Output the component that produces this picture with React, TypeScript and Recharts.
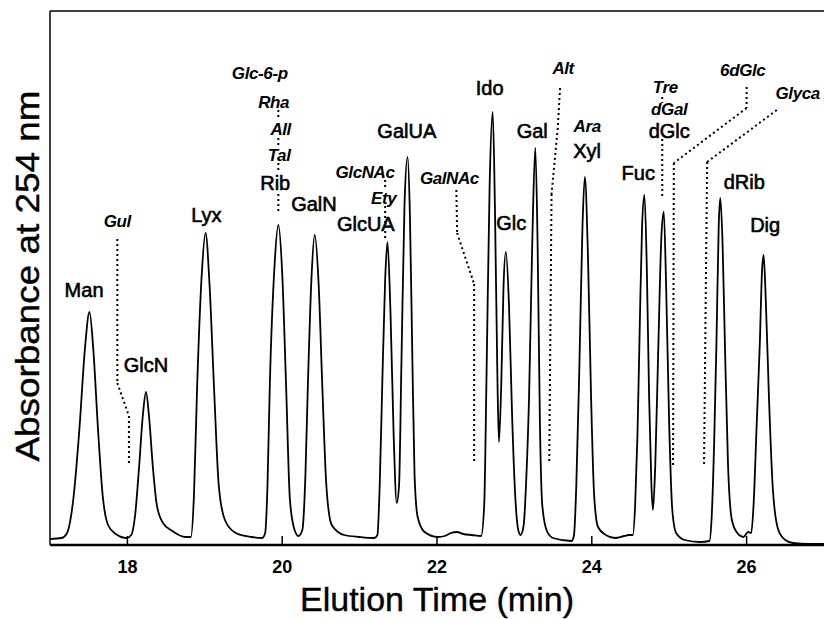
import { ComposedChart, Line, Scatter, XAxis, YAxis, ReferenceLine } from 'recharts'

// elution trace: time (min) / absorbance (arbitrary units)
const time = [
  17.0, 17.15, 17.22, 17.3, 17.38, 17.45, 17.51, 17.56, 17.62, 17.68, 17.75, 17.85, 17.99,
  18.05, 18.1, 18.15, 18.2, 18.24, 18.28, 18.33, 18.38, 18.46, 18.58, 18.75,
  18.82, 18.86, 18.9, 18.96, 19.01, 19.06, 19.12, 19.18, 19.26, 19.4, 19.6, 19.74,
  19.78, 19.81, 19.84, 19.9, 19.95, 20.0, 20.05, 20.1, 20.16, 20.21,
  20.26, 20.3, 20.33, 20.38, 20.42, 20.47, 20.52, 20.57, 20.64, 20.8, 21.0, 21.19,
  21.23, 21.26, 21.29, 21.33, 21.36, 21.4, 21.44, 21.48,
  21.51, 21.54, 21.58, 21.62, 21.65, 21.68, 21.71, 21.75, 21.84, 22.01,
  22.1, 22.18, 22.26, 22.34, 22.45, 22.57,
  22.61, 22.64, 22.68, 22.72, 22.75, 22.78, 22.8,
  22.83, 22.86, 22.89, 22.93, 22.97, 23.01, 23.05, 23.08,
  23.12, 23.15, 23.19, 23.23, 23.27, 23.3, 23.33, 23.36, 23.42, 23.5, 23.74,
  23.77, 23.8, 23.84, 23.88, 23.91, 23.95, 23.99, 24.03, 24.08, 24.18, 24.3, 24.42, 24.48, 24.53,
  24.56, 24.59, 24.62, 24.65, 24.68, 24.71, 24.74, 24.77, 24.79,
  24.82, 24.86, 24.9, 24.93, 24.96, 25.0, 25.04, 25.09, 25.2, 25.4, 25.52,
  25.55, 25.58, 25.61, 25.64, 25.66, 25.69, 25.72, 25.76, 25.81, 25.88, 25.96, 26.02, 26.06,
  26.09, 26.13, 26.17, 26.2, 26.22, 26.25, 26.29, 26.34, 26.41, 26.5, 26.6, 26.8, 27.0,
]
const absorbance = [
  6, 7, 12, 45, 116, 195, 233, 195, 116, 50, 20, 11, 7,
  10, 30, 77, 130, 153, 128, 77, 40, 22, 14, 8,
  8, 50, 156, 270, 312, 262, 156, 60, 25, 12, 8, 7,
  12, 60, 160, 278, 320, 272, 160, 45, 15, 9,
  15, 70, 155, 270, 310, 262, 155, 60, 20, 10, 8, 7,
  10, 60, 152, 265, 303, 230, 110, 42,
  60, 180, 340, 388, 330, 194, 70, 28, 13, 8,
  9, 12, 13, 11, 10, 9,
  40, 170, 360, 433, 330, 170, 103,
  160, 260, 293, 240, 130, 50, 15, 10,
  20, 60, 150, 300, 397, 300, 120, 40, 14, 7, 4,
  10, 60, 180, 320, 368, 290, 150, 50, 18, 10, 7, 9, 10, 10,
  40, 110, 220, 320, 350, 280, 150, 60, 35,
  80, 200, 310, 333, 260, 120, 35, 12, 5, 3, 4,
  30, 100, 200, 320, 347, 300, 200, 80, 25, 12, 8, 13, 12,
  40, 120, 200, 275, 290, 240, 145, 55, 15, 5, 2, 1, 1,
]

// peak labels: name, position (time, absorbance), italic = co-eluting/minor sugars
const labelNames = [
  'Man', 'Gul', 'GlcN', 'Lyx', 'Glc-6-p', 'Rha', 'All', 'Tal', 'Rib', 'GalN',
  'GlcNAc', 'Ety', 'GlcUA', 'GalUA', 'GalNAc', 'Ido', 'Glc', 'Gal', 'Alt', 'Ara',
  'Xyl', 'Fuc', 'Tre', 'dGal', 'dGlc', '6dGlc', 'Glyca', 'dRib', 'Dig',
]
const labelTimes = [
  17.44, 17.87, 18.24, 19.02, 19.71, 19.89, 19.98, 19.96, 19.91, 20.41,
  21.07, 21.31, 21.08, 21.61, 22.16, 22.68, 22.96, 23.23, 23.63, 23.94,
  23.94, 24.6, 24.95, 25.0, 25.0, 25.95, 26.66, 25.97, 26.24,
]
const labelLevels = [
  255, 324, 180, 330, 472, 443, 416, 390, 362, 341,
  373, 347, 321, 414, 367, 457, 322, 414, 477, 419,
  394, 372, 458, 436, 414, 475, 452, 363, 320,
]
const labelItalic = [
  false, true, false, false, true, true, true, true, false, false,
  true, true, false, false, true, false, false, false, true, true,
  false, false, true, true, false, true, true, false, false,
]

// dotted leader lines, each a list of [time, absorbance] corners
const gulLeader = [[17.87, 306], [17.87, 162], [18.02, 129], [18.02, 81]]
const ribLeader = [[19.95, 435], [19.95, 425], [19.95, 407], [19.95, 399], [19.95, 382], [19.95, 374], [19.95, 351], [19.95, 333]]
const glcuaLeader = [[21.33, 365], [21.33, 355], [21.33, 339], [21.33, 307]]
const galnacLeader = [[22.25, 355], [22.26, 312], [22.48, 261], [22.48, 81]]
const altLeader = [[23.59, 457], [23.56, 417], [23.48, 351], [23.45, 81]]
const dglcLeader = [[24.91, 448], [24.91, 442], [24.91, 406], [24.91, 347]]
const sixdglcLeader = [[26.0, 458], [26.0, 437], [25.06, 382], [25.05, 80]]
const glycaLeader = [[26.39, 435], [25.49, 383], [25.45, 80]]

const timeTicks = [18, 20, 22, 24, 26]

const trace = time.map((t, i) => ({ t, v: absorbance[i] }))
const labels = labelNames.map((name, i) => ({
  name,
  t: labelTimes[i],
  v: labelLevels[i],
  italic: labelItalic[i],
}))

// paths listed as consecutive pairs; rib/dglc/glcua are broken by the labels
const pairwise = (p: number[][]) => p.slice(1).map((q, i) => [p[i], q])
const gapped = (p: number[][]) => p.filter((_, i) => i % 2 === 0).map((q, i) => [q, p[i * 2 + 1]])
const segments = [
  ...pairwise(gulLeader),
  ...gapped(ribLeader),
  ...gapped(glcuaLeader),
  ...pairwise(galnacLeader),
  ...pairwise(altLeader),
  ...gapped(dglcLeader),
  ...pairwise(sixdglcLeader),
  ...pairwise(glycaLeader),
]

const FONT = '"Liberation Sans", Arial, Helvetica, sans-serif'

const TimeTick = ({ x, y, payload }: any) => (
  <g>
    <line x1={x} x2={x} y1={y} y2={y - 9} stroke="#000" strokeWidth={1.5} />
    <text x={x} y={y + 28} textAnchor="middle" fontFamily={FONT} fontWeight="bold" fontSize={18} fill="#000">
      {payload.value}
    </text>
  </g>
)

const PeakLabel = (props: any) => {
  const { cx, cy, payload } = props
  const it = payload.italic
  return (
    <text
      x={cx}
      y={cy}
      textAnchor="middle"
      dominantBaseline="central"
      fontFamily={FONT}
      fontSize={it ? 17 : 20}
      fontStyle={it ? 'italic' : 'normal'}
      fontWeight={it ? 'bold' : 'normal'}
      letterSpacing={it ? -0.4 : 0}
      stroke="#000"
      strokeWidth={it ? 0 : 0.6}
      fill="#000"
    >
      {payload.name}
    </text>
  )
}

export default function App() {
  return (
    <div style={{ position: 'relative', width: 824, height: 619, background: '#fff' }}>
      <style>{'body{margin:0}'}</style>
      <ComposedChart width={824} height={619} data={trace} margin={{ top: 11, right: 0, bottom: 34, left: 50 }}>
        <XAxis
          dataKey="t"
          type="number"
          domain={[17, 27]}
          allowDataOverflow
          ticks={timeTicks}
          tick={<TimeTick />}
          tickSize={0}
          tickMargin={0}
          tickLine={false}
          height={40}
          axisLine={{ stroke: '#000', strokeWidth: 2.5 }}
        />
        <YAxis type="number" domain={[0, 534]} allowDataOverflow hide />
        <ReferenceLine x={17} stroke="#000" strokeWidth={1.5} />
        <ReferenceLine y={534} stroke="#000" strokeWidth={1.5} />
        {segments.map((s, i) => (
          <ReferenceLine
            key={i}
            segment={[{ x: s[0][0], y: s[0][1] }, { x: s[1][0], y: s[1][1] }]}
            stroke="#000"
            strokeWidth={2}
            strokeDasharray="2 3"
          />
        ))}
        <Line
          type="monotone"
          dataKey="v"
          stroke="#000"
          strokeWidth={1.8}
          dot={false}
          activeDot={false}
          isAnimationActive={false}
        />
        <Scatter data={labels} dataKey="v" shape={<PeakLabel />} isAnimationActive={false} />
      </ComposedChart>
      <svg width={824} height={619} style={{ position: 'absolute', left: 0, top: 0, pointerEvents: 'none' }}>
        <text
          transform="translate(39,276) rotate(-90)"
          textAnchor="middle"
          fontFamily={FONT}
          fontSize={34}
          textLength={371}
          lengthAdjust="spacingAndGlyphs"
          stroke="#000"
          strokeWidth={0.4}
          fill="#000"
        >
          Absorbance at 254 nm
        </text>
        <text x={437} y={611} textAnchor="middle" fontFamily={FONT} fontSize={34} stroke="#000" strokeWidth={0.4} fill="#000">
          Elution Time (min)
        </text>
      </svg>
    </div>
  )
}
